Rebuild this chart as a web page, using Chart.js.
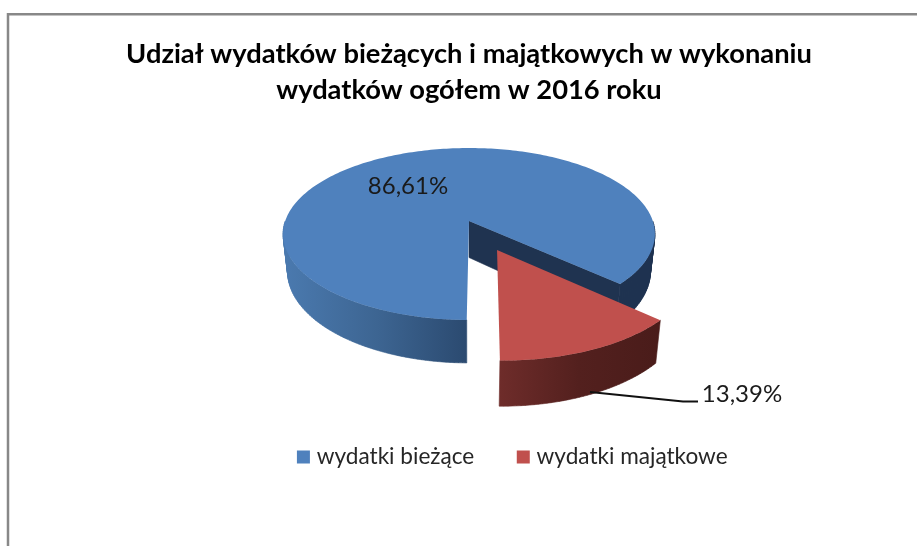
<!DOCTYPE html>
<html>
<head>
<meta charset="utf-8">
<style>html,body{margin:0;padding:0;background:#fff}canvas{display:block;filter:blur(0.4px)}</style>
<script src="https://cdn.jsdelivr.net/npm/chart.js@4"></script>
</head>
<body>
<canvas id="c" width="917" height="546"></canvas>
<script>
const titleLines = ['Udział wydatków bieżących i majątkowych w wykonaniu', 'wydatków ogółem w 2016 roku'];
const categories = ['wydatki bieżące', 'wydatki majątkowe'];
const shareValues = [86.61, 13.39];
const topColors = ['#4f81bd', '#c0504d'];

// Perspective model of the tilted pie: world unit circle -> screen
const G = {cx: 469, cy: 221, A: 183.8, a: 84, p: -0.151, D: 36.5, taper: 0.024};
const explode = [{du: 0, dv: 0}, {du: 0.145, dv: 0.328}];

function proj(u, v, h) {
  const s = 1 + G.p * v;
  return {x: G.cx + G.A * u / s * (1 - G.taper * h), y: G.cy + G.a * v / s + h * G.D / s};
}
function rim(a0, a1, e, h) {
  const n = Math.max(2, Math.ceil(Math.abs(a1 - a0) / 0.02)), pts = [];
  for (let i = 0; i <= n; i++) {
    const t = a0 + (a1 - a0) * i / n;
    pts.push(proj(e.du + Math.cos(t), e.dv + Math.sin(t), h));
  }
  return pts;
}
function fillPoly(ctx, pts, fill, seal) {
  ctx.beginPath();
  pts.forEach((p, i) => i ? ctx.lineTo(p.x, p.y) : ctx.moveTo(p.x, p.y));
  ctx.closePath();
  ctx.fillStyle = fill;
  ctx.fill();
  if (seal) { ctx.strokeStyle = fill; ctx.lineWidth = 0.6; ctx.stroke(); }
}
function hGrad(ctx, x0, x1, stops) {
  const g = ctx.createLinearGradient(x0, 0, x1, 0);
  stops.forEach((c, i) => g.addColorStop(i / (stops.length - 1), c));
  return g;
}
function signedArea(q) {
  let s = 0;
  q.forEach((p, i) => { const n = q[(i + 1) % q.length]; s += p.x * n.y - n.x * p.y; });
  return s;
}
// outer wall as one path of same-orientation quads: the silhouette between the rims is filled without seams
function wall(ctx, a0, a1, e, fill) {
  const t = rim(a0, a1, e, 0), b = rim(a0, a1, e, 1);
  ctx.beginPath();
  for (let i = 0; i + 1 < t.length; i++) {
    let q = [t[i], t[i + 1], b[i + 1], b[i]];
    if (signedArea(q) < 0) q = q.reverse();
    q.forEach((p, k) => k ? ctx.lineTo(p.x, p.y) : ctx.moveTo(p.x, p.y));
    ctx.closePath();
  }
  ctx.fillStyle = fill;
  ctx.fill();
  ctx.strokeStyle = fill;
  ctx.lineWidth = 0.6;
  ctx.stroke();
}

const pie3d = {
  id: 'pie3d',
  afterLayout(chart) {
    const t = chart.titleBlock;
    t.left += 10.5; t.right += 10.5;
    const l = chart.legend;
    const dx = 514.5 - (l.left + l.right) / 2;
    l.left += dx; l.right += dx;
    const h = l.bottom - l.top;
    l.top = 438.5 - h / 2; l.bottom = l.top + h;
  },
  beforeDraw(chart) {
    const ctx = chart.ctx;
    ctx.save();
    ctx.strokeStyle = '#888888';
    ctx.lineWidth = 2.5;
    ctx.beginPath();
    ctx.moveTo(8, 546); ctx.lineTo(8, 14.2); ctx.lineTo(917, 14.2);
    ctx.stroke();
    ctx.restore();
  },
  beforeDatasetDraw() { return false; },
  afterDatasetsDraw(chart) {
    const ctx = chart.ctx;
    const arcs = chart.getDatasetMeta(0).data;
    const blue = arcs[0], red = arcs[1];
    const e0 = explode[0], e1 = explode[1];
    const dark = '#1f3350';
    ctx.save();
    // blue: visible outer walls (left/front with gradient, right in shadow)
    wall(ctx, blue.startAngle, Math.PI, e0, hGrad(ctx, 287, 467, ['#4a79ae', '#3d6592', '#2b4a70']));
    wall(ctx, Math.PI * 2, blue.endAngle, e0, dark);
    // blue: inner cut wall
    const tipT = proj(0, 0, 0), tipB = proj(0, 0, 1);
    const ea = blue.endAngle;
    const eT = proj(Math.cos(ea), Math.sin(ea), 0), eB = proj(Math.cos(ea), Math.sin(ea), 1);
    fillPoly(ctx, [tipT, eT, eB, tipB], dark, true);
    // blue: top
    fillPoly(ctx, [tipT].concat(rim(blue.startAngle, blue.endAngle, e0, 0)), topColors[0]);
    // red: outer wall and top
    wall(ctx, red.startAngle, red.endAngle, e1, hGrad(ctx, 500, 658, ['#6e2c2a', '#53201e', '#4a1c1a']));
    fillPoly(ctx, [proj(e1.du, e1.dv, 0)].concat(rim(red.startAngle, red.endAngle, e1, 0)), topColors[1]);
    // leader line
    ctx.strokeStyle = '#111111';
    ctx.lineWidth = 1.8;
    ctx.beginPath();
    ctx.moveTo(590, 392); ctx.lineTo(683, 401.5); ctx.lineTo(698, 401.5);
    ctx.stroke();
    // value labels
    ctx.font = '24px Lato';
    ctx.fillStyle = '#1a1a1a';
    ctx.textAlign = 'center';
    ctx.textBaseline = 'middle';
    const fmt = v => v.toFixed(2).replace('.', ',') + '%';
    const lab = chart.data.datasets[0].data;
    ctx.fillText(fmt(lab[0]), 408, 186);
    ctx.fillText(fmt(lab[1]), 742, 394);
    ctx.restore();
  }
};

new Chart(document.getElementById('c'), {
  type: 'pie',
  data: {
    labels: categories,
    datasets: [{data: shareValues, backgroundColor: topColors, borderWidth: 0}]
  },
  plugins: [pie3d],
  options: {
    responsive: false,
    animation: false,
    rotation: 180.6,
    layout: {padding: 0},
    plugins: {
      tooltip: {enabled: false},
      title: {
        display: true,
        text: titleLines,
        color: '#000000',
        font: {family: 'Lato', size: 27.3, weight: 'bold', lineHeight: 1.32},
        padding: {top: 36, bottom: 0}
      },
      legend: {
        display: true,
        position: 'bottom',
        labels: {
          boxWidth: 4, boxHeight: 4, padding: 47,
          color: '#262626',
          font: {family: 'Lato', size: 22.6},
          generateLabels: () => categories.map((text, i) => ({
            text, index: i, fillStyle: topColors[i], strokeStyle: topColors[i],
            lineWidth: 9, fontColor: '#262626', hidden: false
          }))
        }
      }
    }
  }
});
</script>
</body>
</html>
